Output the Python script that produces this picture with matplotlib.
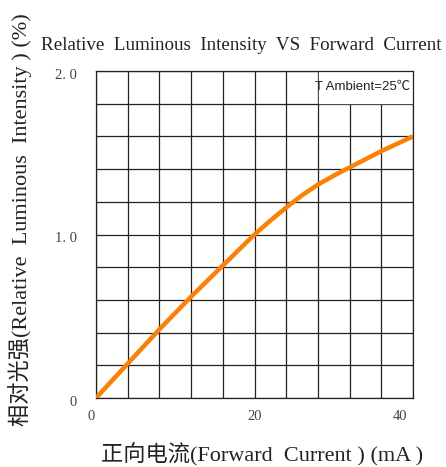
import matplotlib
matplotlib.use('Agg')
import matplotlib.pyplot as plt
import matplotlib.transforms as mtransforms
import numpy as np

# forward current (mA) vs relative luminous intensity
current = [0, 2, 4, 6, 8, 10, 12, 14, 16, 18, 20, 22, 24, 26, 28, 30, 32, 34, 36, 38, 40]
intensity = [0, 0.105, 0.21, 0.315, 0.42, 0.52, 0.62, 0.715, 0.81, 0.905, 1.0,
             1.085, 1.165, 1.24, 1.305, 1.36, 1.41, 1.46, 1.51, 1.555, 1.60]

x_ticks = [0, 20, 40]
x_tick_labels = ['0', '20', '40']
y_ticks = [0, 1.0, 2.0]
y_tick_labels = ['0', '1. 0', '2. 0']

serif = ['Liberation Serif', 'Noto Sans CJK SC', 'DejaVu Sans']

fig = plt.figure(figsize=(4.46, 4.67), dpi=100)
ax = fig.add_axes([96 / 446, 69 / 467, 317 / 446, 327 / 467])

# grid: 10 x 10 cells
for gx in np.arange(0, 41, 4):
    ax.axvline(gx, color='#222222', lw=0.9, zorder=1)
for gy in np.arange(0, 2.01, 0.2):
    ax.axhline(gy, color='#222222', lw=0.9, zorder=1)

# white box over the top right cells for the ambient label
ax.fill_between([28.15, 40], 1.805, 1.995, color='white', zorder=2)
ax.text(39.6, 1.9, 'T Ambient=25℃', ha='right', va='center', fontsize=9.5,
        family=['Liberation Sans', 'Noto Sans CJK SC'], color='#222222', zorder=3)

ax.plot(current, intensity, color='#FF7F00', lw=3.2, solid_capstyle='butt',
        solid_joinstyle='round', zorder=4)

ax.set_xlim(0, 40)
ax.set_ylim(0, 2.0)
ax.set_xticks(x_ticks)
ax.set_xticklabels(x_tick_labels, family=serif, fontsize=10.5, color='#444444')
ax.set_yticks(y_ticks)
ax.set_yticklabels(y_tick_labels, family=serif, fontsize=10.5, color='#444444')
ax.tick_params(axis='x', length=0, pad=9)
ax.tick_params(axis='y', length=0, pad=14)
for s in ax.spines.values():
    s.set_color('#222222')
    s.set_linewidth(0.9)

# tick labels in the original sit a little off the grid lines
for lab, dx in zip(ax.get_xticklabels(), [-5, 0, -13]):
    lab.set_transform(lab.get_transform() + mtransforms.ScaledTranslation(dx / 100, 0, fig.dpi_scale_trans))
for lab in ax.get_yticklabels():
    lab.set_transform(lab.get_transform() + mtransforms.ScaledTranslation(0, -3 / 100, fig.dpi_scale_trans))

fig.text(241 / 446, 1 - 46 / 467, 'Relative  Luminous  Intensity  VS  Forward  Current',
         ha='center', va='center', fontsize=13.7, family=serif, color='#222222')
fig.text(262 / 446, 1 - 455 / 467, '正向电流(Forward  Current ) (mA )',
         ha='center', va='center', fontsize=16, family=serif, color='#222222')
fig.text(20 / 446, 1 - 220 / 467, '相对光强(Relative  Luminous  Intensity ) (%)',
         ha='center', va='center', rotation=90, fontsize=16, family=serif, color='#222222')

fig.savefig('out.png', dpi=100)
